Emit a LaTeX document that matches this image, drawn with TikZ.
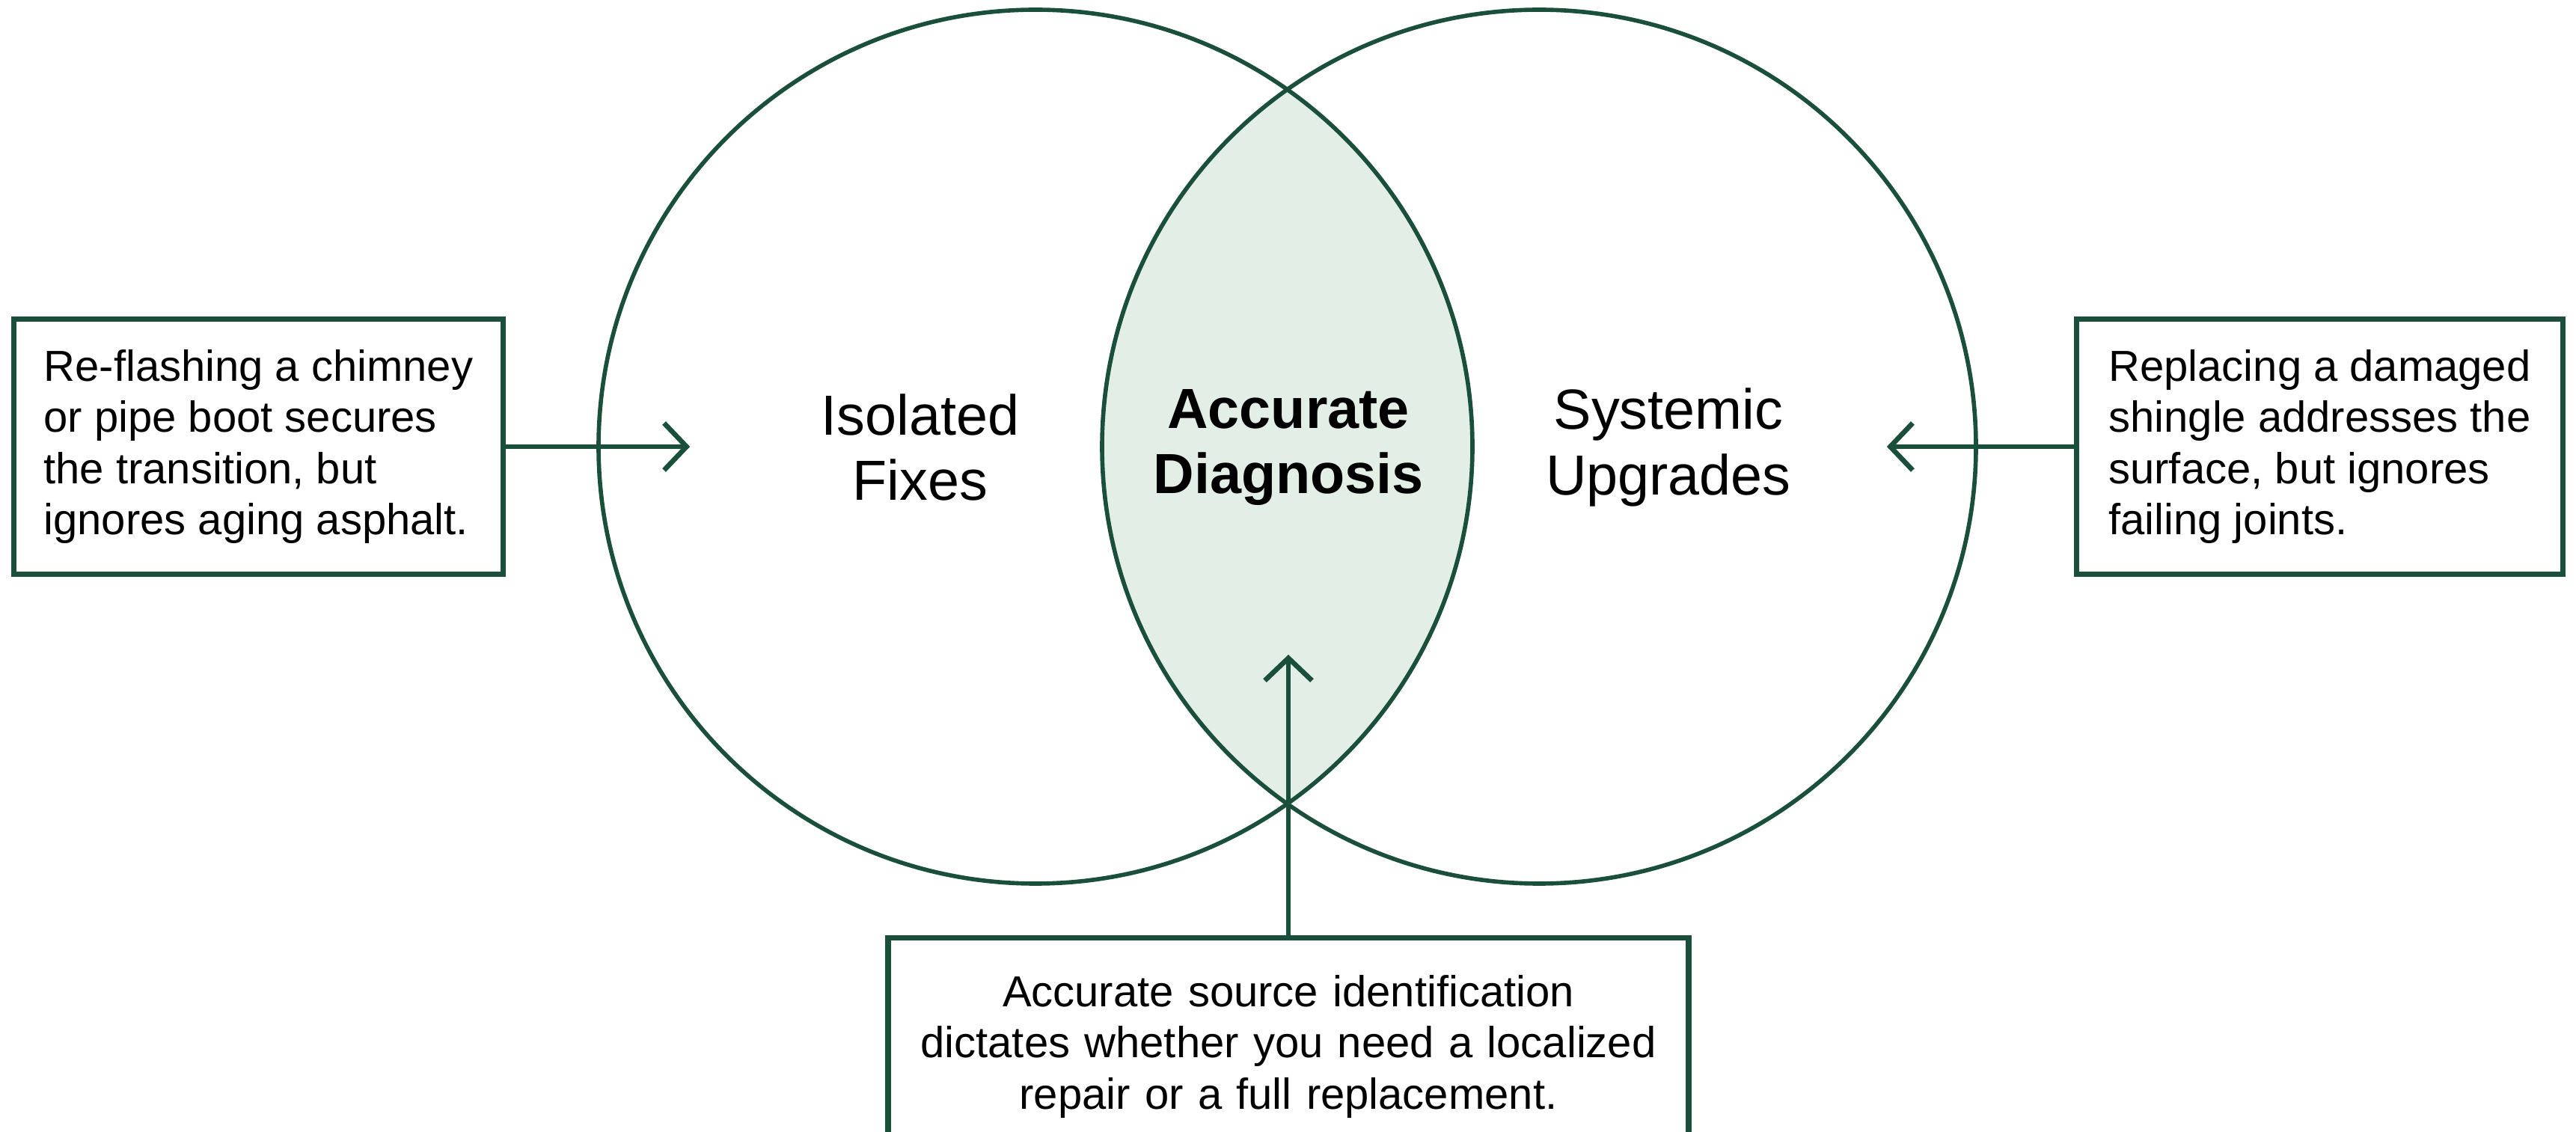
\documentclass[tikz,border=0pt]{standalone}
\usepackage{fontspec}
\setmainfont{Liberation Sans}
\usetikzlibrary{arrows.meta}
\usetikzlibrary{positioning}
\definecolor{vgreen}{HTML}{1A4F3C}
\definecolor{vfill}{HTML}{E3EEE6}

\begin{document}
\begin{tikzpicture}[vset/.style={circle,draw=vgreen,line width=1.6pt,minimum size=11.68cm,inner sep=0pt},vnote/.style={rectangle,draw=vgreen,line width=2.1pt,fill=white,inner sep=0pt,minimum height=3.41cm,font=\fontsize{16.5}{19.5}\selectfont},vname/.style={align=center,font=\fontsize{21.5}{25}\selectfont},vlink/.style={draw=vgreen,line width=1.9pt,-{Straight Barb[length=0.3cm,width=0.63cm]}}]
  \useasboundingbox (0,0) rectangle (34.43,15.12);
  \clip (0,0) rectangle (34.43,15.12);
  %sets
  \coordinate (isoc) at (13.84,9.15);
  \coordinate[right=6.73cm of isoc] (sysc);
  \begin{scope}
    \clip (isoc) circle (5.84);
    \fill[vfill] (sysc) circle (5.84);
  \end{scope}
  \node[vset] (iso) at (isoc) {};
  \node[vset] (sys) at (sysc) {};
  \coordinate (lensbot) at (17.22,4.38);
  %names
  \node[vname] (isoname) at (12.30,9.14) {Isolated\\Fixes};
  \node[vname,font=\fontsize{21.5}{25}\selectfont\bfseries] (diagname) at (17.22,9.14) {Accurate\\Diagnosis};
  \node[vname] (sysname) at (22.30,9.14) {Systemic\\Upgrades};
  %notes
  \node[vnote,minimum width=6.54cm,align=left,left=1.21cm of iso.west] (fixnote) {Re-flashing a chimney\\or pipe boot secures\\the transition, but\\ignores aging asphalt.};
  \node[vnote,minimum width=6.5cm,align=left,right=1.28cm of sys.east] (upnote) {Replacing a damaged\\shingle addresses the\\surface, but ignores\\failing joints.};
  \node[vnote,text width=9.9cm,inner xsep=0.4cm,minimum height=2.9cm,align=center,below=1.76cm of lensbot] (srcnote) {Accurate source identification\\dictates whether you need a localized\\repair or a full replacement.};
  %links
  \coordinate[right=2.46cm of fixnote.east] (fixhead);
  \coordinate[left=2.5cm of upnote.west] (uphead);
  \coordinate[above=3.75cm of srcnote.north] (srchead);
  \draw[vlink] (fixnote) -- (fixhead);
  \draw[vlink] (upnote) -- (uphead);
  \draw[vlink] (srcnote) -- (srchead);
\end{tikzpicture}
\end{document}
